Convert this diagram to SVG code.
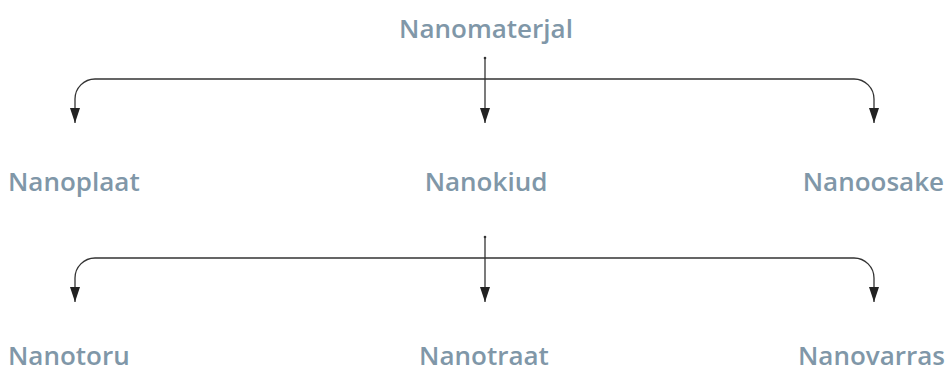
<svg xmlns="http://www.w3.org/2000/svg" width="952" height="372" viewBox="0 0 952 372">
<defs>
<style>
.lbl{font-family:"Open Sans","Liberation Sans",sans-serif;font-weight:600;font-size:26px;fill:#8097a8}
.c{fill:none;stroke:#333;stroke-width:1.3}
</style>
<marker id="ah2" viewBox="0 0 10 15" refX="5" refY="15" markerWidth="10" markerHeight="15" markerUnits="userSpaceOnUse" orient="0">
<path d="M0,0 L10,0 L5,15 Z" fill="#222"/>
</marker>
</defs>
<rect width="952" height="372" fill="#fff"/>
<g id="connectors">
<path class="c" d="M485,58 V123" marker-end="url(#ah2)"/>
<circle cx="485" cy="58" r="1.3" fill="#333"/>
<path class="c" d="M75,123 V99 A20,20 0 0 1 95,79 H854 A20,20 0 0 1 874,99 V123" marker-start="url(#ah2)" marker-end="url(#ah2)"/>
<path class="c" d="M485,237 V302" marker-end="url(#ah2)"/>
<circle cx="485" cy="237" r="1.3" fill="#333"/>
<path class="c" d="M75,302 V278 A20,20 0 0 1 95,258 H854 A20,20 0 0 1 874,278 V302" marker-start="url(#ah2)" marker-end="url(#ah2)"/>
</g>
<g id="nanomaterjal"><text class="lbl" x="486" y="38" text-anchor="middle">Nanomaterjal</text></g>
<g id="nanoplaat"><text class="lbl" x="8" y="191">Nanoplaat</text></g>
<g id="nanokiud"><text class="lbl" x="486" y="191" text-anchor="middle">Nanokiud</text></g>
<g id="nanoosake"><text class="lbl" x="944" y="191" text-anchor="end">Nanoosake</text></g>
<g id="nanotoru"><text class="lbl" x="8" y="365">Nanotoru</text></g>
<g id="nanotraat"><text class="lbl" x="484" y="365" text-anchor="middle">Nanotraat</text></g>
<g id="nanovarras"><text class="lbl" x="945" y="365" text-anchor="end">Nanovarras</text></g>
</svg>
